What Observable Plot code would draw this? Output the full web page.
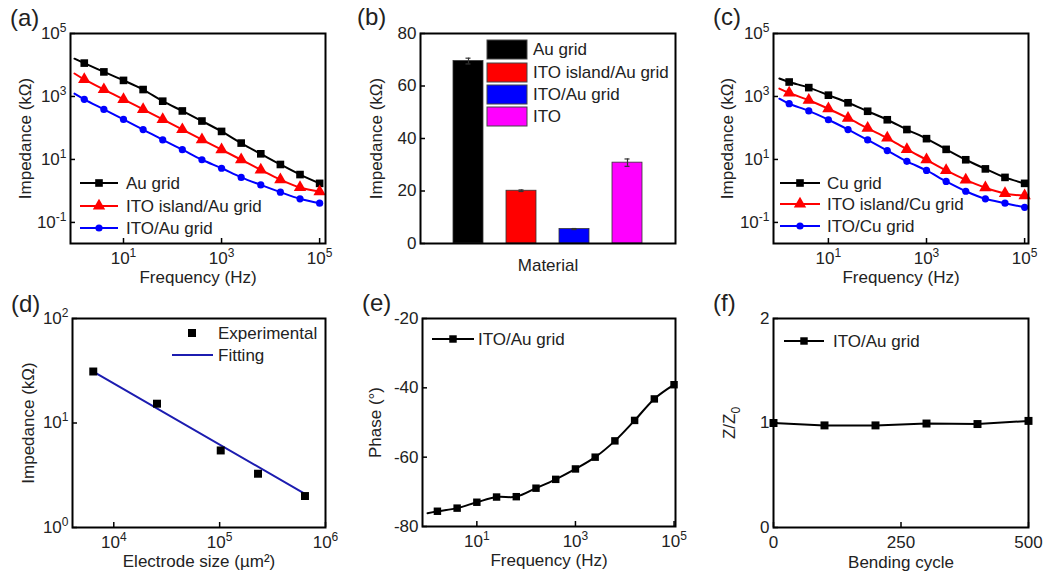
<!DOCTYPE html>
<html><head><meta charset="utf-8">
<script src="https://cdn.jsdelivr.net/npm/d3@7"></script>
<script src="https://cdn.jsdelivr.net/npm/@observablehq/plot@0.6"></script>
<style>
body{margin:0;background:#fff;}
#root{position:relative;width:1050px;height:579px;overflow:hidden;font-family:"Liberation Sans",Arial,sans-serif;color:#222;background:#fff;}
.pl{position:absolute;}
.lab{position:absolute;font-size:24px;line-height:24px;white-space:nowrap;}
</style></head><body><div id="root"></div>
<script>
// ---------- data ----------
const freq = [1, 1.585, 3.981, 10, 25.12, 63.1, 158.5, 398.1, 1000, 2512, 6310, 15850, 39810, 100000];
// (a) impedance, kΩ
const seriesA = ["Au grid", "ITO island/Au grid", "ITO/Au grid"];
const auGrid = [15850, 11480, 6030, 3240, 1660, 708, 347, 166, 77.6, 33.1, 15.1, 6.92, 3.31, 1.74];
const itoIslandAu = [5370, 3470, 1660, 813, 389, 186, 89.1, 42.7, 20.4, 9.77, 4.68, 2.29, 1.29, 0.955];
const itoAu = [1230, 813, 389, 186, 89.1, 41.7, 20.4, 9.77, 5.25, 2.69, 1.55, 0.912, 0.562, 0.407];
// (b) impedance at fixed frequency, kΩ
const materials = ["Au grid", "ITO island/Au grid", "ITO/Au grid", "ITO"];
const matValue = [69.5, 20.1, 5.5, 30.8];
const matError = [1.1, 0.3, 0.2, 1.4];
// (c) impedance, kΩ
const seriesC = ["Cu grid", "ITO island/Cu grid", "ITO/Cu grid"];
const cuGrid = [3720, 2880, 1910, 1100, 631, 339, 182, 89.1, 45.7, 20.9, 9.77, 5.01, 2.69, 1.74];
const itoIslandCu = [1780, 1290, 759, 407, 204, 97.7, 47.9, 20.9, 9.77, 4.47, 2.24, 1.26, 0.832, 0.708];
const itoCu = [851, 589, 347, 182, 89.1, 41.7, 19.1, 8.71, 4.47, 2.0, 0.977, 0.562, 0.407, 0.302];
// (d) impedance vs electrode size
const electrodeSize = [6400, 25600, 102400, 230400, 640000];
const sizeImpedance = [31.1, 15.3, 5.46, 3.27, 2.0];
const fitSize = [6400, 640000];
const fitImpedance = [31, 2.1];
// (e) phase
const phase = [-76.2, -75.6, -74.7, -73.0, -71.5, -71.4, -68.95, -66.4, -63.4, -60.0, -55.3, -49.4, -43.2, -39.1];
// (f) bending
const bendCycle = [0, 100, 200, 300, 400, 500];
const bendRatio = [1.0, 0.977, 0.977, 0.995, 0.99, 1.02];
// tick values
const logFreqTicks = [10, 1000, 100000];
const logImpTicks = [0.1, 10, 1000, 100000];

// ---------- helpers ----------
const FONT = "'Liberation Sans', Arial, sans-serif";
const ML = 70, MR = 20, MT = 30, MB = 50;
const root = document.getElementById("root");
const pow10 = d => "10^" + Math.round(Math.log10(d));
const symMap = {square: d3.symbolSquare, triangle: d3.symbolTriangle, circle: d3.symbolCircle};

function postText(svg) {
  d3.select(svg).selectAll("text").each(function () {
    const t = this.textContent;
    let m = t.match(/^10\^(-?\d+)$/);
    if (m && this.childElementCount === 0) {
      this.textContent = "10";
      d3.select(this).append("tspan").attr("dy", -7).attr("font-size", 12).text(m[1]);
      return;
    }
    m = t.match(/^(.*)_(\w)$/);
    if (m && this.childElementCount === 0) {
      this.textContent = m[1];
      d3.select(this).append("tspan").attr("dy", 5).attr("font-size", 12).text(m[2]);
    }
  });
}

function panel(frame, cfg) {
  const [x0, y0, x1, y1] = frame;
  const iw = x1 - x0, ih = y1 - y0;
  const marks = [];
  if (cfg.xTicks) marks.push(Plot.tickX(cfg.xTicks, {x: d => d, insetTop: ih - 5, stroke: "#000", strokeWidth: 1.5}));
  if (cfg.yTicks) marks.push(Plot.tickY(cfg.yTicks, {y: d => d, insetRight: iw - 5, stroke: "#000", strokeWidth: 1.5}));
  marks.push(...cfg.marks);
  if (cfg.xTicks) marks.push(Plot.axisX({ticks: cfg.xTicks, tickFormat: cfg.xFormat, tickSize: 0, tickPadding: 8, label: null}));
  else marks.push(Plot.axisX({ticks: [], tickSize: 0, label: null}));
  marks.push(Plot.axisY({ticks: cfg.yTicks, tickFormat: cfg.yFormat, tickSize: 0, tickPadding: 4, label: null}));
  marks.push(Plot.text([cfg.yLabel], {text: d => d, frameAnchor: "left", dx: cfg.yLabelDx, rotate: -90, textAnchor: "middle", lineAnchor: "middle"}));
  marks.push(Plot.text([cfg.xLabel], {text: d => d, frameAnchor: "bottom", dy: cfg.xLabelDy, textAnchor: "middle", lineAnchor: "middle"}));
  marks.push(Plot.frame({stroke: "#000", strokeWidth: 2}));
  const svg = Plot.plot({
    width: iw + ML + MR, height: ih + MT + MB,
    marginLeft: ML, marginRight: MR, marginTop: MT, marginBottom: MB,
    style: {fontFamily: FONT, fontSize: "17px", color: "#222", background: "transparent", overflow: "visible"},
    x: cfg.x, y: cfg.y,
    marks
  });
  postText(svg);
  if (cfg.legend) cfg.legend(d3.select(svg).append("g").attr("transform", `translate(${ML},${MT})`).attr("font-size", 17).attr("fill", "#222").attr("text-anchor", "start"));
  const div = document.createElement("div");
  div.className = "pl";
  div.style.left = (x0 - ML) + "px";
  div.style.top = (y0 - MT) + "px";
  div.style.width = (iw + ML + MR) + "px";
  div.appendChild(svg);
  root.appendChild(div);
}

function lineLegend(g, items, lx1, lx2, mx, tx, rows) {
  items.forEach((it, i) => {
    const y = rows[i];
    if (it.line) g.append("line").attr("x1", lx1).attr("x2", lx2).attr("y1", y).attr("y2", y).attr("stroke", it.color).attr("stroke-width", 2);
    if (it.symbol) g.append("path").attr("d", d3.symbol(symMap[it.symbol], Math.PI * it.r * it.r)()).attr("transform", `translate(${mx},${y})`).attr("fill", it.color);
    g.append("text").attr("x", tx).attr("y", y).attr("dy", "0.35em").text(it.name);
  });
}

function seriesMarks(values, names, colors, symbols, radii) {
  const marks = [];
  values.forEach((vals, k) => {
    const rows = freq.map((f, i) => ({f, v: vals[i]}));
    marks.push(Plot.line(rows, {x: "f", y: "v", stroke: colors[k], strokeWidth: 2, curve: "catmull-rom"}));
    marks.push(Plot.dot(rows.slice(1), {x: "f", y: "v", symbol: symbols[k], r: radii[k], fill: colors[k], stroke: "none"}));
  });
  return marks;
}

const colors3 = ["#000000", "#ff0000", "#0000ff"];
const symbols3 = ["square", "triangle", "circle"];
const radii3 = [4.3, 4.6, 3.6];
const impDomain = [0.0214, 100000];

// (a)
panel([70, 33, 325, 243], {
  x: {type: "log", domain: [0.83, 131800]},
  y: {type: "log", domain: impDomain},
  xTicks: logFreqTicks, xFormat: pow10,
  yTicks: logImpTicks, yFormat: pow10,
  yLabel: "Impedance (kΩ)", yLabelDx: -45,
  xLabel: "Frequency (Hz)", xLabelDy: 34,
  marks: seriesMarks([auGrid, itoIslandAu, itoAu], seriesA, colors3, symbols3, radii3),
  legend: g => lineLegend(g, seriesA.map((n, k) => ({name: n, color: colors3[k], symbol: symbols3[k], r: radii3[k], line: true})), 10, 48, 29, 56, [150, 173, 195])
});

// (b)
const barColors = ["#000000", "#ff0000", "#0000ff", "#ff00ff"];
const bars = materials.map((m, i) => ({m, v: matValue[i], e: matError[i], c: barColors[i]}));
panel([420, 33, 675, 243], {
  x: {type: "band", domain: materials, paddingInner: 0.43, paddingOuter: 0.58, align: 0.5},
  y: {domain: [0, 80]},
  xTicks: null,
  yTicks: [0, 20, 40, 60, 80], yFormat: d => String(d),
  yLabel: "Impedance (kΩ)", yLabelDx: -44,
  xLabel: "Material", xLabelDy: 22,
  marks: [
    Plot.barY(bars, {x: "m", y: "v", fill: "c", stroke: "#333", strokeWidth: 0.8}),
    Plot.ruleX(bars, {x: "m", y1: d => d.v - d.e, y2: d => d.v + d.e, stroke: "#333", strokeWidth: 1.2}),
    Plot.tickY(bars, {x: "m", y: d => d.v + d.e, stroke: "#333", strokeWidth: 1.2, insetLeft: 12.5, insetRight: 12.5}),
    Plot.tickY(bars, {x: "m", y: d => d.v - d.e, stroke: "#333", strokeWidth: 1.2, insetLeft: 12.5, insetRight: 12.5})
  ],
  legend: g => {
    const rows = [7, 30, 52, 74];
    materials.forEach((m, i) => {
      g.append("rect").attr("x", 67).attr("y", rows[i]).attr("width", 40).attr("height", 19).attr("fill", barColors[i]).attr("stroke", "#444").attr("stroke-width", 1);
      g.append("text").attr("x", 113).attr("y", rows[i] + 9.5).attr("dy", "0.35em").text(m);
    });
  }
});

// (c)
panel([773, 33, 1028, 243], {
  x: {type: "log", domain: [0.76, 120000]},
  y: {type: "log", domain: impDomain},
  xTicks: logFreqTicks, xFormat: pow10,
  yTicks: logImpTicks, yFormat: pow10,
  yLabel: "Impedance (kΩ)", yLabelDx: -46,
  xLabel: "Frequency (Hz)", xLabelDy: 34,
  marks: seriesMarks([cuGrid, itoIslandCu, itoCu], seriesC, colors3, symbols3, radii3),
  legend: g => lineLegend(g, seriesC.map((n, k) => ({name: n, color: colors3[k], symbol: symbols3[k], r: radii3[k], line: true})), 7, 47, 27, 54, [150, 171, 193])
});

// (d)
const expRows = electrodeSize.map((s, i) => ({s, v: sizeImpedance[i]}));
const fitRows = fitSize.map((s, i) => ({s, v: fitImpedance[i]}));
const fitColor = "#1c1cb0";
panel([72, 318, 325, 527], {
  x: {type: "log", domain: [4074, 1000000]},
  y: {type: "log", domain: [1, 100]},
  xTicks: [10000, 100000, 1000000], xFormat: pow10,
  yTicks: [1, 10, 100], yFormat: pow10,
  yLabel: "Impedance (kΩ)", yLabelDx: -44,
  xLabel: "Electrode size (µm²)", xLabelDy: 34,
  marks: [
    Plot.line(fitRows, {x: "s", y: "v", stroke: fitColor, strokeWidth: 2}),
    Plot.dot(expRows, {x: "s", y: "v", symbol: "square", r: 4.5, fill: "#000", stroke: "none"})
  ],
  legend: g => {
    lineLegend(g, [{name: "Experimental", color: "#000", symbol: "square", r: 4.5, line: false}], 0, 0, 120, 146, [15]);
    lineLegend(g, [{name: "Fitting", color: fitColor, line: true}], 100, 141, 0, 146, [37]);
  }
});

// (e)
const phaseRows = freq.map((f, i) => ({f, v: phase[i]}));
panel([422, 318, 675, 526], {
  x: {type: "log", domain: [0.79, 107000]},
  y: {domain: [-80, -20]},
  xTicks: logFreqTicks, xFormat: pow10,
  yTicks: [-80, -60, -40, -20], yFormat: d => String(d),
  yLabel: "Phase (°)", yLabelDx: -47,
  xLabel: "Frequency (Hz)", xLabelDy: 34,
  marks: [
    Plot.line(phaseRows, {x: "f", y: "v", stroke: "#000", strokeWidth: 2, curve: "catmull-rom"}),
    Plot.dot(phaseRows.slice(1), {x: "f", y: "v", symbol: "square", r: 4.2, fill: "#000", stroke: "none"})
  ],
  legend: g => lineLegend(g, [{name: "ITO/Au grid", color: "#000", symbol: "square", r: 4.2, line: true}], 10, 52, 31, 56, [21])
});

// (f)
const bendRows = bendCycle.map((c, i) => ({c, v: bendRatio[i]}));
panel([773, 318, 1028, 527], {
  x: {domain: [0, 500]},
  y: {domain: [0, 2]},
  xTicks: [0, 250, 500], xFormat: d => String(d),
  yTicks: [0, 1, 2], yFormat: d => String(d),
  yLabel: "Z/Z_0", yLabelDx: -44,
  xLabel: "Bending cycle", xLabelDy: 35,
  marks: [
    Plot.line(bendRows, {x: "c", y: "v", stroke: "#000", strokeWidth: 2}),
    Plot.dot(bendRows, {x: "c", y: "v", symbol: "square", r: 4.5, fill: "#000", stroke: "none"})
  ],
  legend: g => lineLegend(g, [{name: "ITO/Au grid", color: "#000", symbol: "square", r: 4.2, line: true}], 11, 51, 31, 60, [23])
});

// panel letters
[["(a)", 10, 6], ["(b)", 357, 5], ["(c)", 713, 5], ["(d)", 11, 292], ["(e)", 362, 291], ["(f)", 713, 291]].forEach(([t, x, y]) => {
  const d = document.createElement("div");
  d.className = "lab"; d.textContent = t; d.style.left = x + "px"; d.style.top = y + "px";
  root.appendChild(d);
});
</script></body></html>
